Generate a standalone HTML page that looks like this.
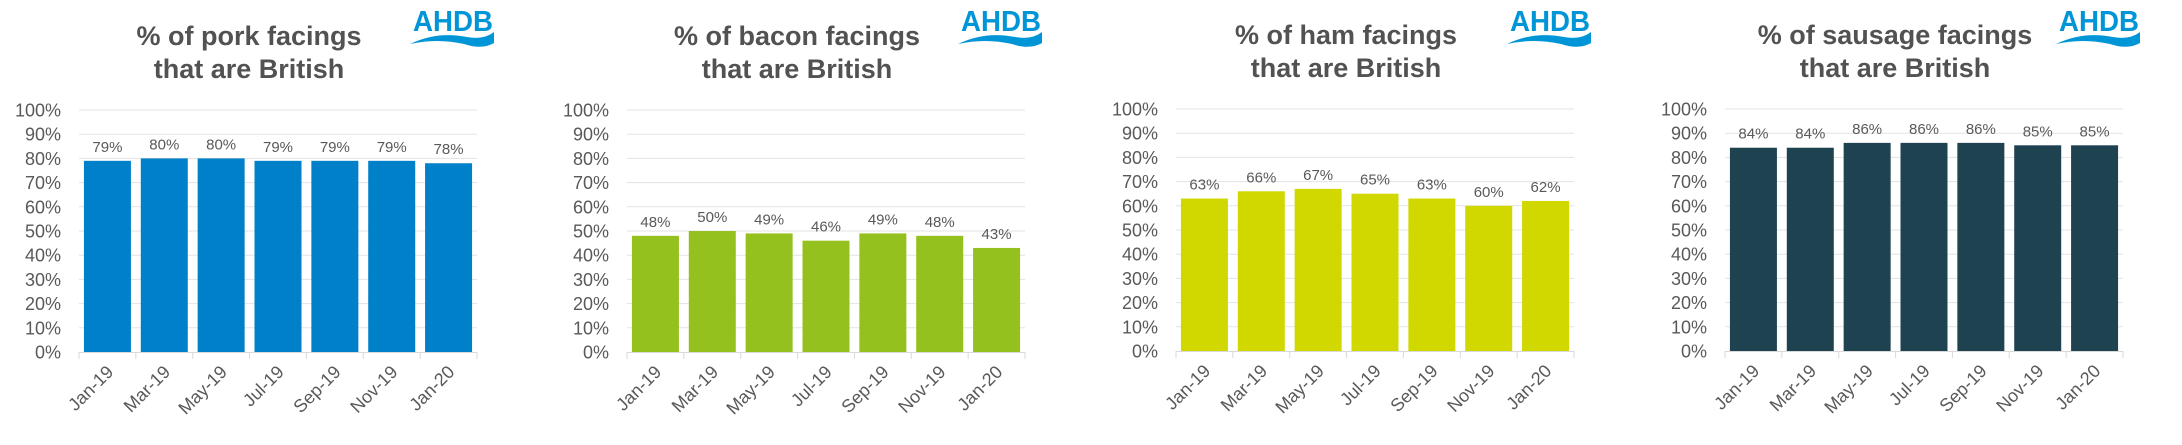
<!DOCTYPE html>
<html><head><meta charset="utf-8"><style>
html,body{margin:0;padding:0;background:#fff;width:2182px;height:445px;overflow:hidden}
svg{display:block;font-family:"Liberation Sans",Arial,sans-serif}
</style></head><body>
<svg id="s" width="2182" height="445" viewBox="0 0 2182 445" xmlns="http://www.w3.org/2000/svg"></svg>
<script>
const charts=[
 {L:79,top:110,bot:352,name:"pork",col:"#0080C8",v:[79,80,80,79,79,79,78]},
 {L:627,top:110,bot:352,name:"bacon",col:"#95C11F",v:[48,50,49,46,49,48,43]},
 {L:1176,top:109,bot:351,name:"ham",col:"#D0D800",v:[63,66,67,65,63,60,62]},
 {L:1725,top:109,bot:351,name:"sausage",col:"#1F4251",v:[84,84,86,86,86,85,85]}
];
const cats=["Jan-19","Mar-19","May-19","Jul-19","Sep-19","Nov-19","Jan-20"];
let h="";
for(const c of charts){
 const W=398,R=c.L+W,cw=W/7,H=c.bot-c.top;
 for(let i=0;i<=10;i++){const y=c.bot-H*i/10;
  if(i>0)h+=`<line x1="${c.L}" x2="${R}" y1="${y}" y2="${y}" stroke="#e3e3e3" stroke-width="1"/>`;
  h+=`<text x="${c.L-18}" y="${y+6.5}" font-size="18" fill="#595959" text-anchor="end">${i*10}%</text>`;}
 h+=`<line x1="${c.L}" x2="${R}" y1="${c.bot+0.5}" y2="${c.bot+0.5}" stroke="#d9d9d9"/>`;
 for(let i=0;i<=7;i++){const x=c.L+cw*i;h+=`<line x1="${x}" x2="${x}" y1="${c.bot}" y2="${c.bot+7}" stroke="#d9d9d9"/>`;}
 c.v.forEach((v,i)=>{const cx=c.L+cw*(i+0.5),y=c.bot-H*v/100;
  h+=`<rect x="${cx-23.5}" y="${y}" width="47" height="${c.bot-y}" fill="${c.col}"/>`;
  h+=`<text x="${cx}" y="${y-9}" font-size="15" fill="#595959" text-anchor="middle">${v}%</text>`;
  h+=`<text transform="translate(${cx+7},${c.bot+21}) rotate(-45)" font-size="18" fill="#595959" text-anchor="end">${cats[i]}</text>`;});
 const tc=c.L+170;
 h+=`<text x="${tc}" y="${c.top-65}" font-size="27" font-weight="bold" fill="#525252" text-anchor="middle">% of ${c.name} facings</text>`;
 h+=`<text x="${tc}" y="${c.top-32}" font-size="27" font-weight="bold" fill="#525252" text-anchor="middle">that are British</text>`;
 const lx=c.L+333;
 h+=`<text x="${lx+41}" y="${31}" font-size="29" font-weight="bold" fill="#0095D6" text-anchor="middle" textLength="80" lengthAdjust="spacingAndGlyphs">AHDB</text>`;
 h+=`<path d="M${lx-2} ${44} Q${lx+25} ${31} ${lx+55} ${37} Q${lx+72} ${40} ${lx+82} ${32} L${lx+82} ${43} Q${lx+70} ${50} ${lx+52} ${44} Q${lx+25} ${38} ${lx-2} ${44}Z" fill="#0095D6"/>`;
}
document.getElementById("s").innerHTML=h;
</script>
</body></html>
